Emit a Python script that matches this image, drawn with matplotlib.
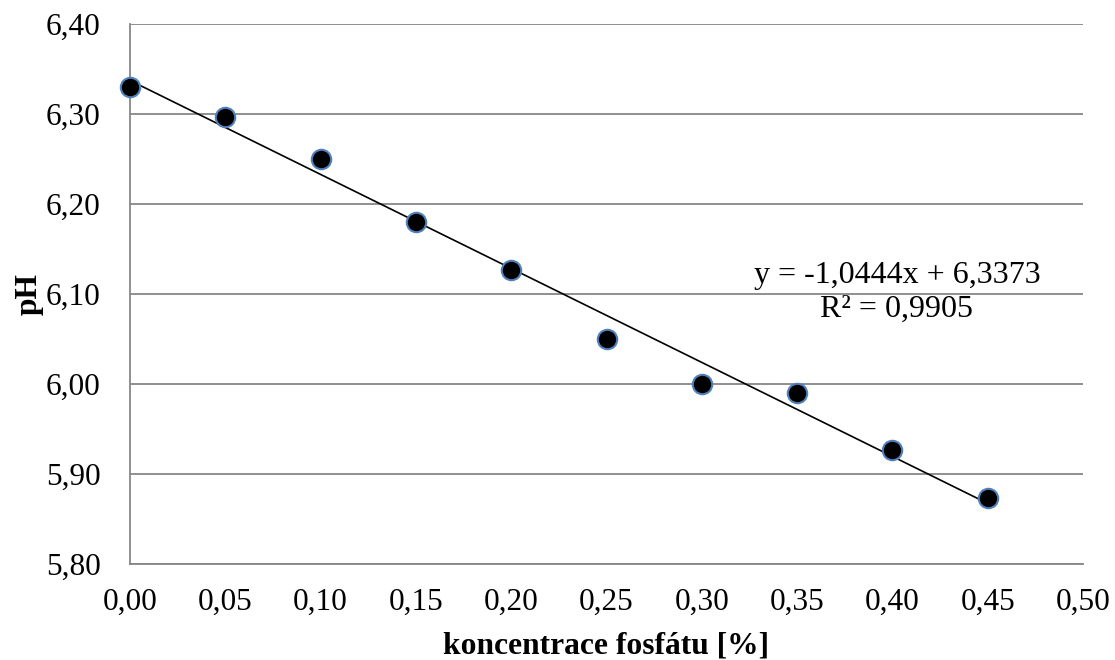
import numpy as np
import matplotlib
matplotlib.use("Agg")
import matplotlib.pyplot as plt
from matplotlib.ticker import FuncFormatter

# fosfát concentration [%] and measured pH
konc = [0.00, 0.05, 0.10, 0.15, 0.20, 0.25, 0.30, 0.35, 0.40, 0.45]
ph = [6.330, 6.297, 6.250, 6.180, 6.127, 6.050, 6.000, 5.990, 5.927, 5.873]

# linear trend line as reported
slope = -1.0444
intercept = 6.3373
r2 = 0.9905

plt.rcParams['font.family'] = ['Liberation Serif', 'DejaVu Serif']

fig = plt.figure(figsize=(11.15, 6.6), dpi=100)
ax = fig.add_axes([130 / 1115, 1 - 564 / 660, (1083 - 130) / 1115, (564 - 24) / 660])

grey = '#878787'
ax.set_xlim(0, 0.5)
ax.set_ylim(5.8, 6.4)
ax.set_xticks(np.arange(0, 0.501, 0.05))
ax.set_yticks(np.arange(5.8, 6.401, 0.1))
ax.yaxis.grid(True, color=grey, linewidth=1.3)
ax.set_axisbelow(True)
for s in ['top', 'right']:
    ax.spines[s].set_visible(False)
for s in ['left', 'bottom']:
    ax.spines[s].set_color(grey)
    ax.spines[s].set_linewidth(1.3)
ax.tick_params(length=0, labelsize=22.5)
ax.tick_params(axis='x', pad=17)
ax.tick_params(axis='y', pad=21)
comma = FuncFormatter(lambda v, p: f'{v:.2f}'.replace('.', ','))
ax.xaxis.set_major_formatter(comma)
ax.yaxis.set_major_formatter(comma)

xs = np.array([konc[0], konc[-1]])
ax.plot(xs, slope * xs + intercept, color='black', linewidth=1.2, zorder=2)
ax.plot(konc, ph, 'o', markersize=14, markerfacecolor='black',
        markeredgecolor='#4f81bd', markeredgewidth=1.5, zorder=3, clip_on=False)

eq = f'y = {slope:.4f}x + {intercept:.4f}'.replace('.', ',')
ax.text(0.4024, 6.102, eq + '\n' + f'R² = {r2:.4f}'.replace('.', ','),
        ha='center', va='center', fontsize=23, linespacing=1.2)

ax.set_xlabel('koncentrace fosfátu [%]', fontsize=22.7, fontweight='bold', labelpad=11)
ax.set_ylabel('pH', fontsize=22.7, fontweight='bold', labelpad=2)

fig.savefig('out.png', dpi=100)
